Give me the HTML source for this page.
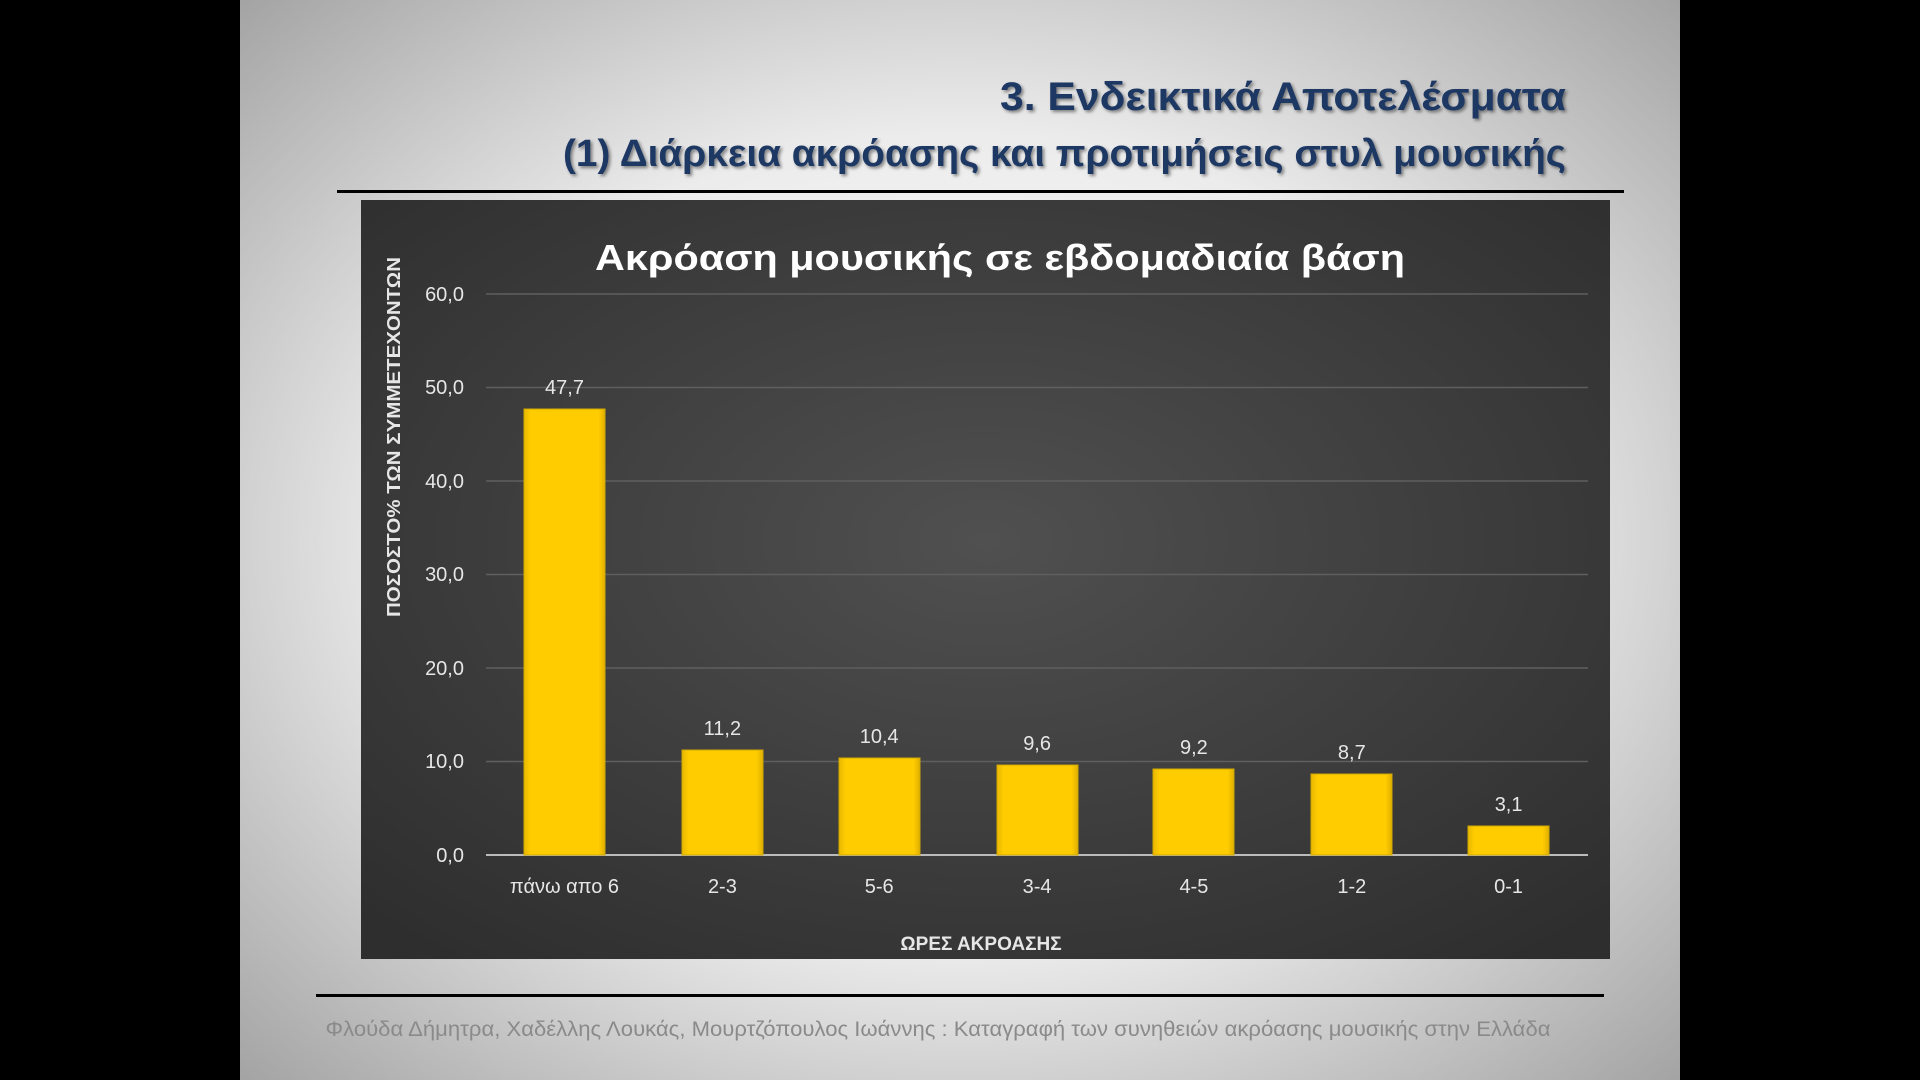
<!DOCTYPE html>
<html><head><meta charset="utf-8"><style>
html,body{margin:0;padding:0;background:#000;}
svg{display:block}
</style></head><body>
<svg width="1920" height="1080" viewBox="0 0 1920 1080" xmlns="http://www.w3.org/2000/svg" font-family="'Liberation Sans', sans-serif">
<defs>
<radialGradient id="bg" cx="0.5" cy="0.5" r="0.75">
<stop offset="0" stop-color="#ffffff"/><stop offset="0.5" stop-color="#ececec"/><stop offset="1" stop-color="#9a9a9a"/>
</radialGradient>
<radialGradient id="cbg" cx="0.5" cy="0.45" r="0.7">
<stop offset="0" stop-color="#505050"/><stop offset="1" stop-color="#2e2e2e"/>
</radialGradient>
<linearGradient id="bar" x1="0" y1="0" x2="1" y2="0">
<stop offset="0" stop-color="#e8b800"/><stop offset="0.08" stop-color="#ffcc00"/><stop offset="0.92" stop-color="#ffcc00"/><stop offset="1" stop-color="#e0b000"/>
</linearGradient>
<filter id="sh"><feDropShadow dx="2" dy="2" stdDeviation="1.5" flood-color="#000" flood-opacity="0.45"/></filter>
</defs>
<rect x="0" y="0" width="1920" height="1080" fill="#000"/>
<rect x="240" y="0" width="1440" height="1080" fill="url(#bg)"/>
<g fill="#1f3864" font-weight="bold" filter="url(#sh)">
<text x="1000" y="110" font-size="40" textLength="566" lengthAdjust="spacingAndGlyphs">3. Ενδεικτικά Αποτελέσματα</text>
<text x="563" y="166" font-size="38" textLength="1003" lengthAdjust="spacingAndGlyphs">(1) Διάρκεια ακρόασης και προτιμήσεις στυλ μουσικής</text>
</g>
<rect x="337" y="190" width="1287" height="3" fill="#000"/>
<rect x="361" y="200" width="1249" height="759" fill="url(#cbg)"/>
<text x="1000" y="270" font-size="36" font-weight="bold" fill="#fff" text-anchor="middle" textLength="810" lengthAdjust="spacingAndGlyphs">Ακρόαση μουσικής σε εβδομαδιαία βάση</text>
<g stroke="#5f5f5f" stroke-width="1.5">
<line x1="486" y1="294" x2="1588" y2="294"/><line x1="486" y1="387.5" x2="1588" y2="387.5"/>
<line x1="486" y1="481" x2="1588" y2="481"/><line x1="486" y1="574.5" x2="1588" y2="574.5"/>
<line x1="486" y1="668" x2="1588" y2="668"/><line x1="486" y1="761.5" x2="1588" y2="761.5"/>
</g>
<line x1="486" y1="855" x2="1588" y2="855" stroke="#bbb" stroke-width="2"/>
<g fill="#e6e6e6" font-size="20" text-anchor="end">
<text x="464" y="301">60,0</text><text x="464" y="394">50,0</text><text x="464" y="488">40,0</text>
<text x="464" y="581">30,0</text><text x="464" y="675">20,0</text><text x="464" y="768">10,0</text><text x="464" y="862">0,0</text>
</g>
<g fill="url(#bar)" stroke="#d0a800" stroke-width="1">
<rect x="524" y="409" width="81" height="446"/>
<rect x="682" y="750" width="81" height="105"/>
<rect x="839" y="758" width="81" height="97"/>
<rect x="997" y="765" width="81" height="90"/>
<rect x="1153" y="769" width="81" height="86"/>
<rect x="1311" y="774" width="81" height="81"/>
<rect x="1468" y="826" width="81" height="29"/>
</g>
<g fill="#e6e6e6" font-size="20" text-anchor="middle">
<text x="564.5" y="394">47,7</text><text x="722.4" y="735">11,2</text><text x="879.2" y="743">10,4</text>
<text x="1037.1" y="750">9,6</text><text x="1193.9" y="754">9,2</text><text x="1351.8" y="759">8,7</text><text x="1508.6" y="811">3,1</text>
<text x="564.5" y="893">πάνω απο 6</text><text x="722.4" y="893">2-3</text><text x="879.2" y="893">5-6</text>
<text x="1037.1" y="893">3-4</text><text x="1193.9" y="893">4-5</text><text x="1351.8" y="893">1-2</text><text x="1508.6" y="893">0-1</text>
</g>
<text x="981" y="950" font-size="19" font-weight="bold" fill="#e6e6e6" text-anchor="middle">ΩΡΕΣ ΑΚΡΟΑΣΗΣ</text>
<text transform="translate(400,437) rotate(-90)" font-size="18" font-weight="bold" fill="#e6e6e6" text-anchor="middle" textLength="360" lengthAdjust="spacingAndGlyphs">ΠΟΣΟΣΤΟ% ΤΩΝ ΣΥΜΜΕΤΕΧΟΝΤΩΝ</text>
<rect x="316" y="994" width="1288" height="3" fill="#000"/>
<text x="938" y="1036" font-size="21" fill="#8a8a8a" text-anchor="middle" textLength="1225" lengthAdjust="spacingAndGlyphs">Φλούδα Δήμητρα, Χαδέλλης Λουκάς, Μουρτζόπουλος Ιωάννης : Καταγραφή των συνηθειών ακρόασης μουσικής στην Ελλάδα</text>
</svg>
</body></html>
